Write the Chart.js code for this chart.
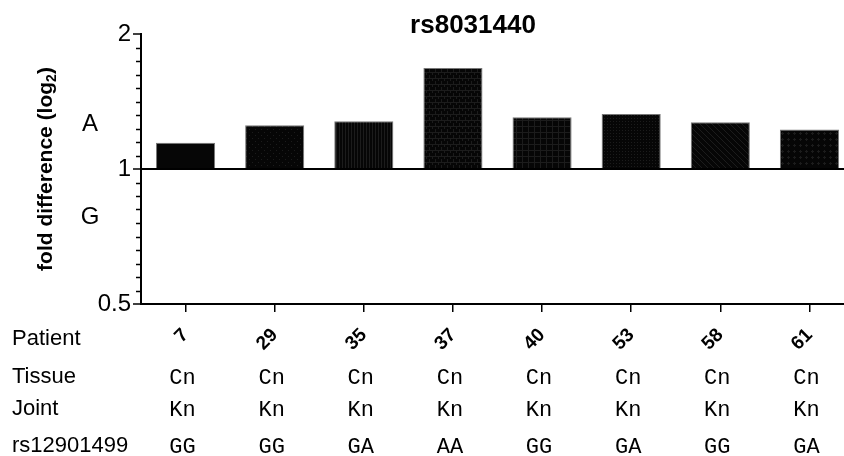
<!DOCTYPE html>
<html>
<head>
<meta charset="utf-8">
<script src="https://cdn.jsdelivr.net/npm/chart.js@4.4.1/dist/chart.umd.min.js"></script>
<style>
    html, body { margin: 0; padding: 0; background: #fff; overflow: hidden; }
    #wrap { width: 856px; height: 456px; position: relative; }
</style>
</head>
<body>
<div id="wrap"><canvas id="foldChart"></canvas></div>
<script>
// Chart data
const patients = ['7', '29', '35', '37', '40', '53', '58', '61'];
const foldValues = [1.145, 1.252, 1.278, 1.68, 1.305, 1.327, 1.272, 1.225];
const tissue = ['Cn', 'Cn', 'Cn', 'Cn', 'Cn', 'Cn', 'Cn', 'Cn'];
const joint = ['Kn', 'Kn', 'Kn', 'Kn', 'Kn', 'Kn', 'Kn', 'Kn'];
const genotype = ['GG', 'GG', 'GA', 'AA', 'GG', 'GA', 'GG', 'GA'];
const yMajorTicks = [0.5, 1, 2];
const yMinorSteps = 10;  // minor ticks per doubling
const rowNames = ['Patient', 'Tissue', 'Joint', 'rs12901499'];

const sans = "'Liberation Sans', Arial, sans-serif";
const mono = "'Liberation Mono', 'Courier New', monospace";

// every tick on the log2 axis: 2^(k/10) between 0.5 and 2
const yTickValues = [];
for (let k = -yMinorSteps; k <= yMinorSteps; k++) {
    yTickValues.push(Math.pow(2, k / yMinorSteps));
}

// dark textured fills, one per bar
function makePattern(kind) {
    const c = document.createElement('canvas');
    c.width = 6;
    c.height = 6;
    const g = c.getContext('2d');
    g.fillStyle = '#060606';
    g.fillRect(0, 0, 6, 6);
    g.fillStyle = '#1c1c1c';
    if (kind === 'dots') { g.fillRect(0, 0, 1, 1); g.fillRect(3, 3, 1, 1); }
    if (kind === 'vert') { g.fillRect(0, 0, 1, 6); g.fillRect(3, 0, 1, 6); }
    if (kind === 'grid') { g.fillRect(0, 0, 6, 1); g.fillRect(0, 0, 1, 6); }
    if (kind === 'brick') { g.fillRect(0, 0, 6, 1); g.fillRect(0, 0, 1, 3); g.fillRect(3, 3, 1, 3); }
    if (kind === 'diag') { for (let i = 0; i < 6; i++) g.fillRect(i, i, 1, 1); }
    if (kind === 'fine') { g.fillRect(1, 1, 1, 1); g.fillRect(4, 4, 1, 1); g.fillRect(1, 4, 1, 1); g.fillRect(4, 1, 1, 1); }
    if (kind === 'diamond') { g.fillRect(2, 0, 1, 1); g.fillRect(1, 1, 3, 1); g.fillRect(2, 2, 1, 1); }
    return g.createPattern(c, 'repeat');
}
const barFills = ['solid', 'dots', 'vert', 'brick', 'grid', 'fine', 'diag', 'diamond'].map(makePattern);

// title, axis title, A/G markers, minor ticks and the table rows under the axis
const extrasPlugin = {
    id: 'extras',
    afterDraw(chart) {
        const ctx = chart.ctx;
        const x = chart.scales.x;
        const y = chart.scales.y;
        ctx.save();
        ctx.fillStyle = '#000';

        // minor ticks
        ctx.strokeStyle = '#000';
        ctx.lineWidth = 1.5;
        yTickValues.forEach(v => {
            if (yMajorTicks.includes(v)) return;
            const py = Math.round(y.getPixelForValue(v)) + 0.5;
            ctx.beginPath();
            ctx.moveTo(y.right - 5, py);
            ctx.lineTo(y.right, py);
            ctx.stroke();
        });

        // title
        ctx.font = 'bold 26px ' + sans;
        ctx.textAlign = 'center';
        ctx.textBaseline = 'alphabetic';
        ctx.fillText('rs8031440', 473, 33);

        // A / G
        ctx.font = '24px ' + sans;
        ctx.textBaseline = 'middle';
        ctx.fillText('A', 90, y.getPixelForValue(Math.pow(2, 0.33)));
        ctx.fillText('G', 90, y.getPixelForValue(Math.pow(2, -0.36)));

        // rotated axis title with subscript
        ctx.save();
        ctx.translate(44, (y.top + y.bottom) / 2);
        ctx.rotate(-Math.PI / 2);
        const mainFont = 'bold 21px ' + sans;
        const subFont = 'bold 14px ' + sans;
        ctx.font = mainFont;
        const w1 = ctx.measureText('fold difference (log').width;
        const w3 = ctx.measureText(')').width;
        ctx.font = subFont;
        const w2 = ctx.measureText('2').width;
        let sx = -(w1 + w2 + w3) / 2;
        ctx.textAlign = 'left';
        ctx.textBaseline = 'alphabetic';
        ctx.font = mainFont;
        ctx.fillText('fold difference (log', sx, 8);
        ctx.font = subFont;
        ctx.fillText('2', sx + w1, 12);
        ctx.font = mainFont;
        ctx.fillText(')', sx + w1 + w2, 8);
        ctx.restore();

        // table rows
        ctx.textAlign = 'left';
        ctx.textBaseline = 'alphabetic';
        ctx.font = '22px ' + sans;
        const rowBase = [345, 383, 415, 452];
        rowNames.forEach((name, i) => ctx.fillText(name, 12, rowBase[i]));

        ctx.textAlign = 'center';
        ctx.font = '22px ' + mono;
        [tissue, joint, genotype].forEach((row, r) => {
            row.forEach((txt, i) => {
                ctx.fillText(txt, x.getPixelForValue(i) - 3, rowBase[r + 1] + 1);
            });
        });
        ctx.restore();
    }
};

function initChart() {
    const ctx = document.getElementById('foldChart').getContext('2d');
    new Chart(ctx, {
        type: 'bar',
        data: {
            labels: patients,
            datasets: [{
                data: foldValues,
                base: 1,
                backgroundColor: barFills,
                borderColor: '#777',
                borderWidth: 1,
                barPercentage: 0.663,
                categoryPercentage: 1
            }]
        },
        options: {
            responsive: true,
            maintainAspectRatio: false,
            animation: false,
            layout: {
                padding: { left: 0, right: 2, top: 34, bottom: 0 }
            },
            plugins: {
                legend: { display: false },
                title: { display: false },
                tooltip: { enabled: false }
            },
            scales: {
                x: {
                    offset: true,
                    afterFit: (scale) => { scale.height = 152; },
                    border: { color: '#000', width: 2 },
                    grid: {
                        offset: false,
                        drawOnChartArea: false,
                        tickLength: 8,
                        tickColor: '#000',
                        lineWidth: 1.5
                    },
                    ticks: {
                        minRotation: 45,
                        maxRotation: 45,
                        autoSkip: false,
                        padding: 12,
                        color: '#000',
                        font: { family: sans, size: 19, weight: 'bold' }
                    }
                },
                y: {
                    type: 'logarithmic',
                    min: 0.5,
                    max: 2,
                    z: 1,
                    afterFit: (scale) => { scale.width = 141; },
                    afterBuildTicks: (scale) => {
                        scale.ticks = yTickValues.map(v => ({ value: v, major: yMajorTicks.includes(v) }));
                    },
                    border: { color: '#000', width: 2 },
                    grid: {
                        drawOnChartArea: true,
                        color: (c) => (c.tick && c.tick.value === 1) ? '#000' : 'rgba(0,0,0,0)',
                        lineWidth: 2,
                        tickLength: 8,
                        tickColor: (c) => (c.tick && yMajorTicks.includes(c.tick.value)) ? '#000' : 'rgba(0,0,0,0)',
                        tickWidth: 1.5
                    },
                    ticks: {
                        autoSkip: false,
                        padding: 2,
                        color: '#000',
                        font: { family: sans, size: 24 },
                        callback: (v) => yMajorTicks.includes(v) ? String(v) : ''
                    }
                }
            }
        },
        plugins: [extrasPlugin]
    });
}

document.addEventListener('DOMContentLoaded', initChart);
</script>
</body>
</html>
